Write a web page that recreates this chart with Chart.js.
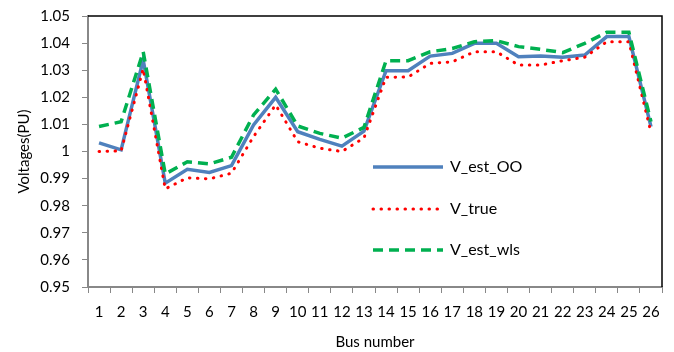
<!DOCTYPE html>
<html>
<head>
<meta charset="utf-8">
<script src="https://cdn.jsdelivr.net/npm/chart.js@4/dist/chart.umd.min.js"></script>
<style>
  html, body { margin: 0; padding: 0; background: #fff; }
  #wrap { width: 674px; height: 352px; position: relative; }
</style>
</head>
<body>
<div id="wrap"><canvas id="voltChart"></canvas></div>
<script>
const busNumbers = ["1","2","3","4","5","6","7","8","9","10","11","12","13","14","15","16","17","18","19","20","21","22","23","24","25","26"];

const vEstOO = [1.0032, 1.0006, 1.0338, 0.9883, 0.9934, 0.9923, 0.9948, 1.0098, 1.0200, 1.0073, 1.0045, 1.0020, 1.0075,
  1.0298, 1.0298, 1.0352, 1.0362, 1.0399, 1.0399, 1.0350, 1.0352, 1.0348, 1.0356, 1.0424, 1.0424, 1.0092];
const vTrue = [1.0000, 1.0002, 1.0305, 0.9862, 0.9903, 0.9899, 0.9920, 1.0055, 1.0172, 1.0036, 1.0012, 1.0000, 1.0050,
  1.0274, 1.0275, 1.0325, 1.0331, 1.0368, 1.0368, 1.0319, 1.0319, 1.0335, 1.0348, 1.0405, 1.0405, 1.0071];
const vEstWls = [1.0092, 1.0110, 1.0368, 0.9917, 0.9962, 0.9954, 0.9979, 1.0135, 1.0230, 1.0094, 1.0067, 1.0049, 1.0089,
  1.0335, 1.0335, 1.0368, 1.0380, 1.0405, 1.0409, 1.0387, 1.0377, 1.0365, 1.0399, 1.0440, 1.0440, 1.0110];

const FONT = "Lato, 'Open Sans', sans-serif";

// legend drawn inside the plot, like the excel original
const insideLegend = {
  id: "insideLegend",
  afterDatasetsDraw(chart) {
    const { ctx, chartArea } = chart;
    const x0 = chartArea.left + 285;
    const rows = [chartArea.top + 151, chartArea.top + 193, chartArea.top + 234];
    ctx.save();
    chart.data.datasets.forEach((ds, i) => {
      const y = rows[i];
      ctx.beginPath();
      ctx.strokeStyle = ds.borderColor;
      ctx.lineWidth = ds.borderWidth;
      ctx.lineCap = ds.borderCapStyle || "butt";
      ctx.setLineDash(ds.borderDash || []);
      ctx.moveTo(x0, y);
      ctx.lineTo(x0 + 70, y);
      ctx.stroke();
      ctx.setLineDash([]);
      ctx.fillStyle = "#000";
      ctx.font = "16px " + FONT;
      ctx.textBaseline = "middle";
      ctx.fillText(ds.label, x0 + 77, y);
    });
    ctx.restore();
  }
};

const frame = {
  id: "frame",
  afterDraw(chart) {
    const { ctx, chartArea } = chart;
    ctx.save();
    ctx.strokeStyle = "#000";
    ctx.lineWidth = 1.5;
    ctx.beginPath();
    ctx.moveTo(chartArea.left, chartArea.top);
    ctx.lineTo(chartArea.right, chartArea.top);
    ctx.lineTo(chartArea.right, chartArea.bottom);
    ctx.stroke();
    ctx.restore();
  }
};

new Chart(document.getElementById("voltChart"), {
  type: "line",
  data: {
    labels: busNumbers,
    datasets: [
      {
        label: "V_est_OO",
        data: vEstOO,
        borderColor: "#4F81BD",
        borderWidth: 3.5,
        pointRadius: 0,
        tension: 0,
        order: 3
      },
      {
        label: "V_true",
        data: vTrue,
        borderColor: "#FF0000",
        borderWidth: 3,
        borderDash: [0.5, 7.5],
        borderCapStyle: "round",
        pointRadius: 0,
        tension: 0,
        order: 2
      },
      {
        label: "V_est_wls",
        data: vEstWls,
        borderColor: "#00B050",
        borderWidth: 3.5,
        borderDash: [10, 6],
        pointRadius: 0,
        tension: 0,
        order: 1
      }
    ]
  },
  options: {
    responsive: true,
    maintainAspectRatio: false,
    animation: false,
    layout: { padding: { left: 8, right: 12, top: 16, bottom: 0 } },
    plugins: {
      legend: { display: false },
      tooltip: { enabled: false }
    },
    scales: {
      x: {
        offset: true,
        grid: {
          display: true,
          offset: true,
          drawOnChartArea: false,
          drawTicks: true,
          tickLength: 6,
          color: "#888"
        },
        border: { color: "#888", width: 2 },
        ticks: {
          color: "#000",
          font: { family: FONT, size: 15 },
          maxRotation: 0,
          autoSkip: false,
          padding: 10
        },
        title: {
          display: true,
          text: "Bus number",
          color: "#000",
          font: { family: FONT, size: 15 },
          padding: { top: 4, bottom: 1 }
        },
        afterFit(scale) { scale.height = 65; }
      },
      y: {
        min: 0.95,
        max: 1.05,
        grid: {
          display: true,
          drawOnChartArea: false,
          drawTicks: true,
          tickLength: 6,
          color: "#888"
        },
        border: { color: "#888", width: 2 },
        ticks: {
          stepSize: 0.01,
          color: "#000",
          font: { family: FONT, size: 15 },
          padding: 12,
          callback: (v) => String(parseFloat(v.toFixed(2)))
        },
        title: {
          display: true,
          text: "Voltages(PU)",
          color: "#000",
          font: { family: FONT, size: 15 },
          padding: { top: 7, bottom: 2 }
        },
        afterFit(scale) {
          scale.width = 80;
          scale.paddingTop = 0;
          scale.paddingBottom = 0;
        }
      }
    }
  },
  plugins: [insideLegend, frame]
});
</script>
</body>
</html>
